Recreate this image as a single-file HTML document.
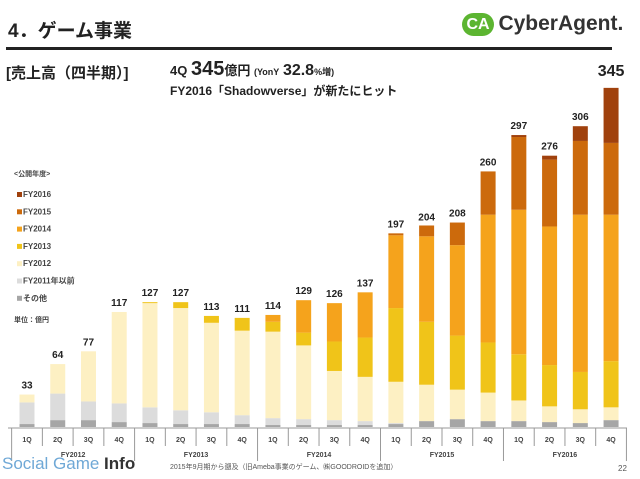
<!DOCTYPE html>
<html><head><meta charset="utf-8">
<style>
body{margin:0;width:640px;height:479px;background:#fff;overflow:hidden;font-family:"Liberation Sans","Noto Sans CJK JP",sans-serif;color:#222}
.t{position:absolute;white-space:nowrap}
</style></head>
<body>
<div class="t" style="left:8px;top:16px;font-size:19px;font-weight:bold">4．ゲーム事業</div>
<div style="position:absolute;left:6px;top:47px;width:606px;height:3px;background:#222"></div>
<div class="t" style="left:462px;top:12px;height:28px">
 <span style="display:inline-block;width:32px;height:23px;background:#5cb531;border-radius:12px;color:#fff;font-weight:bold;font-size:16px;text-align:center;line-height:23px;vertical-align:middle">CA</span>
 <span style="font-size:21px;font-weight:bold;color:#333;vertical-align:middle">CyberAgent.</span>
</div>
<div class="t" style="left:6px;top:62px;font-size:15px;font-weight:bold">[売上高（四半期）]</div>
<div class="t" style="left:170px;top:58px;font-size:13px;font-weight:bold">4Q <span style="font-size:20px">345</span>億円 <span style="font-size:9px">(YonY</span> <span style="font-size:16px">32.8</span><span style="font-size:9px">%増)</span></div>
<div class="t" style="left:170px;top:82px;font-size:12px;font-weight:bold">FY2016「Shadowverse」が新たにヒット</div>

<svg id="chart" width="640" height="479" style="position:absolute;left:0;top:0"></svg>
<div class="t" style="left:2px;top:454px;font-size:17px;color:#6fa8d6">Social Game <b style="color:#333">Info</b></div>
<div class="t" style="left:170px;top:462px;font-size:7px;color:#555">2015年9月期から遡及（旧Ameba事業のゲーム、㈱GOODROIDを追加）</div>
<div class="t" style="left:618px;top:464px;font-size:8px;color:#555">22</div>
<script>
const quarters=["1Q","2Q","3Q","4Q"];
const years=["FY2012","FY2013","FY2014","FY2015","FY2016"];
const totals=[33,64,77,117,127,127,113,111,114,129,126,137,197,204,208,260,297,276,306,345];
const seriesNames=["その他","FY2011年以前","FY2012","FY2013","FY2014","FY2015","FY2016"];
const other=[3,7,7,5,4,3,3,3,2,2,2,2,3,6,8,6,6,5,4,7];
const pre2011=[22,27,19,19,16,14,12,9,7,6,5,4,1,0,0,0,0,0,0,0];
const fy2012=[8,30,51,93,106,104,91,86,88,75,50,45,42,37,30,29,21,16,14,13];
const fy2013=[0,0,0,0,1,6,7,13,10,13,30,40,75,64,55,51,47,42,38,47];
const fy2014=[0,0,0,0,0,0,0,0,7,33,39,46,74,87,92,130,147,141,160,149];
const fy2015=[0,0,0,0,0,0,0,0,0,0,0,0,2,11,23,44,74,68,75,73];
const fy2016=[0,0,0,0,0,0,0,0,0,0,0,0,0,0,0,0,2,4,15,56];
const series=[other,pre2011,fy2012,fy2013,fy2014,fy2015,fy2016];
const colors=["#a6a6a6","#dcdcdc","#fdf0c3","#f0c419","#f5a31c","#cc6a0c","#a0410d"];
const legendNames=["FY2016","FY2015","FY2014","FY2013","FY2012","FY2011年以前","その他"];
const legendColors=["#a0410d","#cc6a0c","#f5a31c","#f0c419","#fdf0c3","#dcdcdc","#a6a6a6"];
const svg=document.getElementById('chart');
const NS="http://www.w3.org/2000/svg";
const base=427, scale=0.983, x0=27, step=30.74, bw=15;
const xPos=i=>x0+i*step;
const yPos=v=>base-v*scale;
function mk(tag,a){const e=document.createElementNS(NS,tag);for(const k in a)e.setAttribute(k,a[k]);svg.appendChild(e);return e;}
totals.forEach((t,i)=>{
  let acc=0;
  series.forEach((s,k)=>{
    if(s[i]<=0)return;
    const r=mk('rect',{x:xPos(i)-bw/2,y:yPos(acc+s[i]),width:bw,height:s[i]*scale,fill:colors[k]});
    
    
    acc+=s[i];
  });
  const big=i===totals.length-1;
  const tx=mk('text',{x:xPos(i),y:yPos(t)-(big?12:6),'text-anchor':'middle','font-size':big?16:10,'font-weight':'bold',fill:'#222'});
  tx.textContent=t;
  
  
});
const ax=mk('line',{x1:8,x2:627,y1:base+1,y2:base+1,stroke:'#999'});


for(let i=0;i<=totals.length;i++){
  const xx=xPos(i)-step/2;
  const long=i%4===0;
  const l=mk('line',{x1:xx,x2:xx,y1:base+1,y2:long?base+34:base+19,stroke:'#999'});
  
  
}
totals.forEach((t,i)=>{
  const q=mk('text',{x:xPos(i),y:base+15,'text-anchor':'middle','font-size':7,'font-weight':'bold',fill:'#444'});
  q.textContent=quarters[i%4];
  
  
});
years.forEach((y,j)=>{
  const t=mk('text',{x:(xPos(j*4)+xPos(j*4+3))/2,y:base+30,'text-anchor':'middle','font-size':7,'font-weight':'bold',fill:'#444'});
  t.textContent=y;
  
  
});
const lt=mk('text',{x:14,y:176,'font-size':7,'font-weight':'bold',fill:'#444'});
lt.textContent='<公開年度>';


legendNames.forEach((n,k)=>{
  const y=197+k*17.3;
  const r=mk('rect',{x:17,y:y-5,width:5,height:5,fill:legendColors[k]});
  
  
  const t=mk('text',{x:23,y:y,'font-size':8,'font-weight':'bold',fill:'#444'});
  t.textContent=n;
  
  
});
const u=mk('text',{x:14,y:322,'font-size':7,'font-weight':'bold',fill:'#444'});
u.textContent='単位：億円';


</script>
</body></html>
